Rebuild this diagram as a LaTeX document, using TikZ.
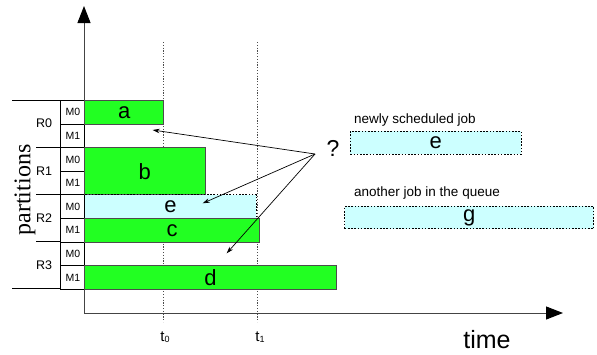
\documentclass[tikz,border=0pt]{standalone}
\usepackage{fontspec}
\setmainfont{Liberation Serif}
\setsansfont{Liberation Sans}
\usetikzlibrary{arrows.meta}
\definecolor{jobgreen}{HTML}{22FF22}
\definecolor{jobcyan}{HTML}{CCFFFF}
\definecolor{axisgray}{HTML}{444444}
\newcommand{\pxsize}[1]{\fontsize{#1}{#1}\selectfont}
\begin{document}
\begin{tikzpicture}[x=1pt,y=-1pt,
  job/.style={draw=black!70, line width=0.8pt, fill=jobgreen, anchor=north west,
    inner sep=0pt, minimum height=23.6pt, font=\sffamily\pxsize{22}},
  queued/.style={job, fill=jobcyan, draw=black, line width=0.8pt, dash pattern=on 1.6pt off 1.6pt},
  cell/.style={draw=black, line width=1pt, minimum width=24pt, minimum height=23.6pt,
    inner sep=0pt, anchor=north west, font=\sffamily\pxsize{10.5}},
  rlabel/.style={font=\sffamily\pxsize{12.5}},
  note/.style={anchor=west, font=\sffamily\pxsize{13.5}, inner sep=0pt},
  pline/.style={draw=black, line width=0.8pt},
  tline/.style={draw=black!70, line width=0.8pt, dash pattern=on 1.2pt off 1.6pt},
  axis/.style={draw=axisgray, line width=1pt,
    -{Triangle[length=17pt,width=13pt,fill=black,color=black]}},
  ptr/.style={draw=black, line width=0.7pt, -{Stealth[length=7pt,width=4.5pt]}},
  tlabel/.style={font=\sffamily\pxsize{15}, inner sep=0pt}
]
\useasboundingbox (0,0) rectangle (597,354);

% time marks
\draw[tline] (163,42) -- (163,322);
\draw[tline] (257,42) -- (257,322);
\node[tlabel] (t0) at (165,337) {t\raisebox{-1.5pt}{\pxsize{9}0}};
\node[tlabel] (t1) at (260,337) {t\raisebox{-1.5pt}{\pxsize{9}1}};

% axes
\coordinate (origin) at (84,313);
\coordinate (ytip) at (84,6);
\coordinate (xtip) at (563,313);
\draw[axis] (origin) -- (ytip);
\draw[axis] (origin) -- (xtip);
\node[font=\sffamily\pxsize{25}, inner sep=0pt] (time) at (487,340) {time};
\node[rotate=90, font=\pxsize{24}] (partitions) at (25,190) {partitions};

% partition separators
\draw[pline] (12,100) -- (60.3,100);
\draw[pline] (36,147.2) -- (60.3,147.2);
\draw[pline] (36,194.4) -- (60.3,194.4);
\draw[pline] (36,241.6) -- (60.3,241.6);
\draw[pline] (12,288.8) -- (60.3,288.8);

% partitions and machines
\node[rlabel] (r0) at (44,123.6) {R0};
\node[rlabel] (r1) at (44,170.8) {R1};
\node[rlabel] (r2) at (44,218.0) {R2};
\node[rlabel] (r3) at (44,265.2) {R3};
\node[cell] (m00) at (60.3,100.0) {M0};
\node[cell] (m01) at (60.3,123.6) {M1};
\node[cell] (m10) at (60.3,147.2) {M0};
\node[cell] (m11) at (60.3,170.8) {M1};
\node[cell] (m20) at (60.3,194.4) {M0};
\node[cell] (m21) at (60.3,218.0) {M1};
\node[cell] (m30) at (60.3,241.6) {M0};
\node[cell] (m31) at (60.3,265.2) {M1};

% scheduled jobs
\node[job, minimum width=79pt] (a) at (84.3,100.0) {a};
\node[job, minimum width=120.2pt, minimum height=47.2pt] (b) at (84.3,147.2) {b};
\node[queued, minimum width=171.7pt] (e) at (84.3,194.4) {e};
\node[job, minimum width=174.7pt] (c) at (84.3,218.0) {c};
\node[job, minimum width=251.7pt] (d) at (84.3,265.2) {d};

% candidate placements
\node[font=\sffamily\pxsize{23}] (q) at (333,148) {?};
\coordinate (qsrc) at (315,154);
\coordinate (tipA) at (152.7,130);
\coordinate (tipE) at (202.7,203.3);
\coordinate (tipD) at (226.7,253.3);
\draw[ptr] (qsrc) -- (tipA);
\draw[ptr] (qsrc) -- (tipE);
\draw[ptr] (qsrc) -- (tipD);

% queue
\node[note] (newlbl) at (354,120) {newly scheduled job};
\node[queued, minimum width=170.7pt, minimum height=23.3pt] (enew) at (350,130.7) {e};
\node[note] (otherlbl) at (354,193) {another job in the queue};
\node[queued, minimum width=249pt, minimum height=22.3pt] (g) at (344.3,206) {g};
\end{tikzpicture}
\end{document}
